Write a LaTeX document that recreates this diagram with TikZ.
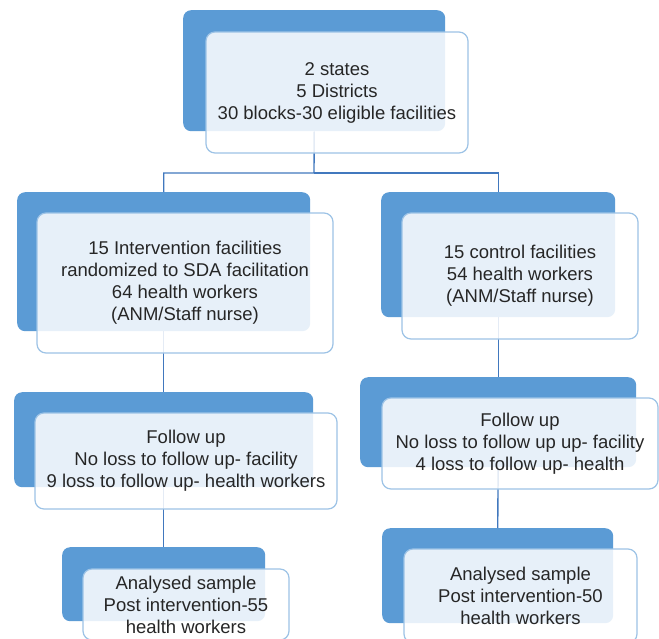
\documentclass[tikz,border=0pt]{standalone}
\usepackage{fontspec}
\setmainfont{Liberation Sans}
\definecolor{backblue}{HTML}{5B9BD5}
\definecolor{frontline}{HTML}{9DC3E6}
\definecolor{linkblue}{HTML}{4178BE}
\definecolor{txt}{HTML}{262626}
\tikzset{
  backbox/.style={draw=none, fill=backblue, rounded corners=8pt, inner sep=0pt, anchor=north west},
  frontbox/.style={draw=frontline, line width=1.2pt, fill=white, fill opacity=0.86, text opacity=1,
    text=txt, rounded corners=9pt, align=center, inner sep=0pt,
    font=\fontsize{18.5}{22}\selectfont},
  link/.style={draw=linkblue, line width=1.4pt}
}
\begin{document}
\begin{tikzpicture}[x=1pt, y=-1pt]
\clip (0,0) rectangle (659,638);
\fill[white] (0,0) rectangle (659,638);
% connector junction
\coordinate (split) at (314,173);
% back boxes
\node[backbox, minimum width=262pt, minimum height=121pt] (b1) at (183,10) {};
\node[backbox, minimum width=293pt, minimum height=139pt] (b2l) at (17,192) {};
\node[backbox, minimum width=234pt, minimum height=125pt] (b2r) at (381,192) {};
\node[backbox, minimum width=299pt, minimum height=95pt] (b3l) at (14,392) {};
\node[backbox, minimum width=276pt, minimum height=90pt] (b3r) at (360,377) {};
\node[backbox, minimum width=203pt, minimum height=74pt] (b4l) at (62,547) {};
\node[backbox, minimum width=231pt, minimum height=95pt] (b4r) at (382,528) {};
% connectors (behind the front boxes)
\draw[link] (b1.south) -- (split) -| (b2l.north);
\draw[link] (split) -| (b2r.north);
\draw[link] (b2l.south) -- (b3l.north);
\draw[link] (b3l.south) -- (b4l.north);
\draw[link] (b2r.south) -- (b3r.north);
\draw[link] (b3r.south) -- (b4r.north);
% front boxes
\node[frontbox, minimum width=262pt, minimum height=121pt] (f1) at (337,92.5)
  {2 states\\5 Districts\\30 blocks-30 eligible facilities};
\node[frontbox, minimum width=296pt, minimum height=140pt] (f2l) at (185,283)
  {15 Intervention facilities\\randomized to SDA facilitation\\64 health workers\\(ANM/Staff nurse)};
\node[frontbox, minimum width=236pt, minimum height=126pt] (f2r) at (520,276)
  {15 control facilities\\54 health workers\\(ANM/Staff nurse)};
\node[frontbox, minimum width=302pt, minimum height=96pt] (f3l) at (186,461)
  {Follow up\\No loss to follow up- facility\\9 loss to follow up- health workers};
\node[frontbox, minimum width=276pt, minimum height=91pt] (f3r) at (520,443.5)
  {Follow up\\No loss to follow up up- facility\\4 loss to follow up- health};
\node[frontbox, minimum width=206pt, minimum height=71pt] (f4l) at (186,604.5)
  {Analysed sample\\Post intervention-55\\health workers};
\node[frontbox, minimum width=233pt, minimum height=94pt] (f4r) at (520.5,596)
  {Analysed sample\\Post intervention-50\\health workers};
\end{tikzpicture}
\end{document}
